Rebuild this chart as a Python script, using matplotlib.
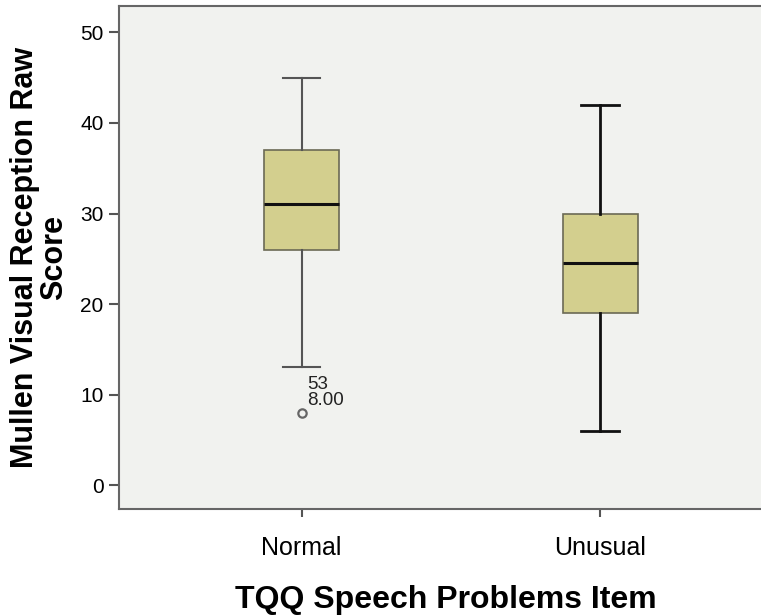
import matplotlib
matplotlib.use("Agg")
import matplotlib.pyplot as plt

plt.rcParams.update({
    "font.family": ["Liberation Sans", "DejaVu Sans"],
})

# box-plot summary per group (SPSS style)
groups = ["Normal", "Unusual"]
whisker_low = [13, 6]
q1 = [26, 19]
median = [31, 24.5]
q3 = [37, 30]
whisker_high = [45, 42]
outliers = [[8], []]
outlier_case = ["53", None]

BOX = "#d3cf8e"
BG = "#f1f2ef"

fig = plt.figure(figsize=(7.61, 6.15), dpi=100)
ax = fig.add_axes([0.1564, 0.172, 0.86, 0.818])
ax.set_facecolor(BG)

stats = []
for i, g in enumerate(groups):
    stats.append(dict(label=g, whislo=whisker_low[i], q1=q1[i], med=median[i],
                      q3=q3[i], whishi=whisker_high[i], fliers=outliers[i]))

line_cols = ["#555555", "#111111"]
line_w = [1.5, 2.0]
for i, st in enumerate(stats):
    c, w = line_cols[i], line_w[i]
    ax.bxp([st], positions=[i + 1], widths=0.2526, patch_artist=True,
           boxprops=dict(facecolor=BOX, edgecolor="#6b6a55", linewidth=1.2),
           medianprops=dict(color="#111111", linewidth=2.2),
           whiskerprops=dict(color=c, linewidth=w),
           capprops=dict(color=c, linewidth=w),
           capwidths=0.126,
           flierprops=dict(marker="o", markersize=6, markerfacecolor="none",
                           markeredgecolor="#666666", markeredgewidth=1.6))
    for v in outliers[i]:
        ax.text(i + 1.02, v + 0.4, f"{outlier_case[i]}\n{v:.2f}", fontsize=13.5,
                ha="left", va="bottom", linespacing=0.95, color="#222222")

ax.set_xlim(0.389, 2.58)
ax.set_ylim(-2.65, 52.9)
ax.set_yticks([0, 10, 20, 30, 40, 50])
ax.set_xticks([1, 2])
ax.set_xticklabels(groups)
ax.tick_params(axis="y", labelsize=15, length=7, width=1.5, color="#555555", pad=4)
ax.tick_params(axis="x", labelsize=18, length=6, width=1.5, color="#555555", pad=13)
for s in ["left", "bottom", "top"]:
    ax.spines[s].set_color("#666666")
    ax.spines[s].set_linewidth(1.5)
ax.spines["right"].set_visible(False)

ax.set_ylabel("Mullen Visual Reception Raw\nScore", fontsize=22, fontweight="bold",
              linespacing=0.95, labelpad=8)
ax.set_xlabel("TQQ Speech Problems Item", fontsize=23, fontweight="bold", labelpad=18)

fig.savefig("out.png", dpi=100, facecolor="white")
